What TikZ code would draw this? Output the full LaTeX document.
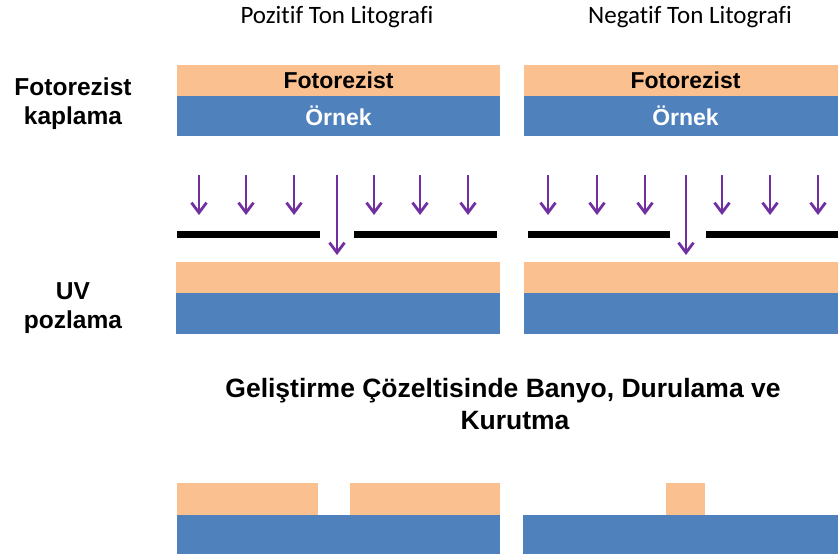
\documentclass[tikz,border=0pt]{standalone}
\usepackage{fontspec}
\setmainfont{Liberation Sans}
\newfontfamily\calfont[Ligatures={NoCommon}]{Carlito}
\usetikzlibrary{arrows.meta}
\definecolor{resistc}{HTML}{FAC090}
\definecolor{samplec}{HTML}{4F81BD}
\definecolor{uvc}{HTML}{7030A0}
\begin{document}
\begin{tikzpicture}[x=1pt,y=-1pt,
  layer/.style={anchor=north west, inner sep=0pt, outer sep=0pt, minimum width=#1},
  resist/.style={layer=#1, fill=resistc, minimum height=31pt,
    font=\bfseries\fontsize{23}{24}\selectfont, text=black},
  sample/.style={layer=#1, fill=samplec, minimum height=40pt,
    font=\bfseries\fontsize{23}{24}\selectfont, text=white},
  maskbar/.style={layer=#1, fill=black, minimum height=7pt},
  uvray/.style={draw=uvc, line width=2.6pt,
    -{Straight Barb[length=10pt,width=15pt,line width=2.8pt]}},
  heading/.style={font=\calfont\fontsize{25}{28}\selectfont},
  sidelabel/.style={font=\bfseries\fontsize{24.5}{29}\selectfont, align=center},
  steplabel/.style={font=\bfseries\fontsize{26.5}{32}\selectfont, align=center}
]
\clip (0,0) rectangle (838,557);
\fill[white] (0,0) rectangle (838,557);

% column headings
\node[heading] (hpos) at (337,17) {Pozitif Ton Litografi};
\node[heading] (hneg) at (690,17) {Negatif Ton Litografi};

% row labels
\node[sidelabel] (lcoat) at (73,104) {Fotorezist\\kaplama};
\node[sidelabel] (luv) at (73,308) {UV\\pozlama};

% coating: resist on sample
\node[resist=323pt] (r1a) at (177,65) {Fotorezist};
\node[sample=323pt] (s1a) at (177,96) {Örnek};
\node[resist=323pt] (r1b) at (524,65) {Fotorezist};
\node[sample=323pt] (s1b) at (524,96) {Örnek};

% exposure: masks and UV rays
\node[maskbar=143pt] (m1) at (177,231) {};
\node[maskbar=143pt] (m2) at (354,231) {};
\node[maskbar=142pt] (m3) at (528,231) {};
\node[maskbar=140pt] (m4) at (706,231) {};

\foreach \x in {199,246,294,374,420,468,548,597,645,722,770,818}
  \draw[uvray] (\x,175) -- (\x,215);
\foreach \x in {337,686}
  \draw[uvray] (\x,175) -- (\x,255);

\node[resist=324pt, minimum height=31pt] (r2a) at (176,262) {};
\node[sample=324pt, minimum height=41pt] (s2a) at (176,293) {};
\node[resist=323pt, minimum height=31pt] (r2b) at (524,262) {};
\node[sample=323pt, minimum height=41pt] (s2b) at (524,293) {};

% development step
\node[steplabel] (ldev) at (503,404) {Geliştirme Çözeltisinde Banyo, Durulama ve\\\hspace*{24pt}Kurutma};

% developed result
\node[resist=141pt, minimum height=32pt] (r3a) at (177,483) {};
\node[resist=150pt, minimum height=32pt] (r3b) at (350,483) {};
\node[sample=323pt, minimum height=39pt] (s3a) at (177,515) {};
\node[resist=39pt, minimum height=32pt] (r3c) at (666,483) {};
\node[sample=323pt, minimum height=39pt] (s3b) at (523,515) {};
\end{tikzpicture}
\end{document}
